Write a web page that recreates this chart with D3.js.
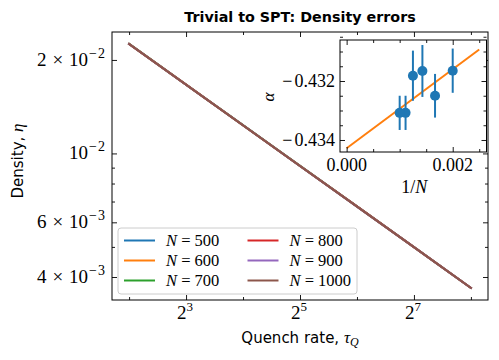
<!DOCTYPE html>
<html>
<head>
<meta charset="utf-8">
<script src="https://cdn.jsdelivr.net/npm/d3@7"></script>
<style>
  body{margin:0;background:#fff;}
  .serif{font-family:"Liberation Serif",serif;}
  .sans{font-family:"DejaVu Sans",sans-serif;}
</style>
</head>
<body>
<script>
// data
const tauQ=[4,8,16,32,64,128,256];
const sizes=[500,600,700,800,900,1000];
const density500 =[0.02253,0.01665,0.01232,0.00912,0.00675,0.00499,0.00369];
const density600 =[0.02252,0.01666,0.01232,0.00912,0.00675,0.00499,0.00369];
const density700 =[0.02252,0.01665,0.01233,0.00912,0.00675,0.00499,0.00369];
const density800 =[0.02251,0.01665,0.01232,0.00911,0.00675,0.00499,0.00369];
const density900 =[0.02251,0.01664,0.01232,0.00911,0.00674,0.00499,0.00369];
const density1000=[0.02250,0.01664,0.01231,0.00911,0.00674,0.00499,0.00369];
const densities=[density500,density600,density700,density800,density900,density1000];
const colors=["#1f77b4","#ff7f0e","#2ca02c","#d62728","#9467bd","#8c564b"];

const xMajor=[8,32,128], xMinor=[4,16,64,256];
const yMajor=[0.02,0.01,0.006,0.004];
const yMajorLabels=[["2","10","−2"],["","10","−2"],["6","10","−3"],["4","10","−3"]];
const yMinor=[0.009,0.008,0.007,0.005];

// inset
const invN=[0.002,0.0016667,0.0014286,0.00125,0.0011111,0.001];
const alpha=[-0.43165,-0.43250,-0.43166,-0.43182,-0.43308,-0.43308];
const alphaErr=[0.00075,0.00074,0.00088,0.00085,0.00058,0.00058];
const fitX=[0,0.0025];
const fitY=[-0.43428,-0.43093];
const inXMajor=[0,0.002], inXLabels=["0.000","0.002"];
const inXMinor=[0.0005,0.001,0.0015,0.0025];
const inYMajor=[-0.432,-0.434], inYLabels=["0.432","0.434"];
const inYMinor=[-0.4305,-0.431,-0.4315,-0.4325,-0.433,-0.4335];

const width=499,height=360;
const m={left:112,top:32,right:488,bottom:300};
const ins={left:340,top:40,right:486.5,bottom:152};

const svg=d3.select("body").append("svg")
  .attr("width",width).attr("height",height);

const x=d3.scaleLog().base(2).domain([Math.pow(2,1.7),Math.pow(2,8.3)]).range([m.left,m.right]);
const y=d3.scaleLog().domain([Math.pow(10,-2.472),Math.pow(10,-1.609)]).range([m.bottom,m.top]);

function ticks(g,axis,vals,len){
  g.call(axis.tickValues(vals).tickSize(-len).tickSizeOuter(0).tickFormat(()=>""));
  g.select(".domain").remove();
  g.selectAll("line").attr("stroke","#000").attr("stroke-width",0.9);
}
function mirrorTicks(xs,ys,box,xMaj,xMin,yMaj,yMin){
  [[xMaj,5],[xMin,3]].forEach(([v,l])=>{
    ticks(svg.append("g").attr("transform",`translate(0,${box.bottom})`),d3.axisBottom(xs),v,l);
    ticks(svg.append("g").attr("transform",`translate(0,${box.top})`),d3.axisTop(xs),v,l);
  });
  [[yMaj,5],[yMin,3]].forEach(([v,l])=>{
    ticks(svg.append("g").attr("transform",`translate(${box.left},0)`),d3.axisLeft(ys),v,l);
    ticks(svg.append("g").attr("transform",`translate(${box.right},0)`),d3.axisRight(ys),v,l);
  });
}

// main lines
const line=d3.line().x((d,i)=>x(tauQ[i])).y(d=>y(d));
densities.forEach((ds,k)=>{
  svg.append("path").datum(ds)
    .attr("fill","none").attr("stroke",colors[k])
    .attr("stroke-width",2).attr("stroke-linecap","square")
    .attr("d",line);
});

mirrorTicks(x,y,m,xMajor,xMinor,yMajor,yMinor);
svg.append("rect").attr("x",m.left).attr("y",m.top)
  .attr("width",m.right-m.left).attr("height",m.bottom-m.top)
  .attr("fill","none").attr("stroke","#000").attr("stroke-width",1);

// x tick labels 2^n
svg.append("g").selectAll("text").data(xMajor).join("text")
  .attr("class","serif").attr("font-size",19)
  .attr("x",d=>x(d)-1).attr("y",319).attr("text-anchor","middle")
  .each(function(d){
    const t=d3.select(this);
    t.append("tspan").text("2");
    t.append("tspan").attr("font-size",13).attr("dy",-8).text(Math.log2(d));
  });

// y tick labels  a × 10^b
svg.append("g").selectAll("text").data(yMajor).join("text")
  .attr("class","serif").attr("font-size",19)
  .attr("x",m.left-6).attr("y",d=>y(d)+6).attr("text-anchor","end")
  .each(function(d,i){
    const t=d3.select(this), lab=yMajorLabels[i];
    if(lab[0]){
      t.append("tspan").text(lab[0]);
      t.append("tspan").attr("dx",6).text("×");
      t.append("tspan").attr("dx",6).text(lab[1]);
    } else t.append("tspan").text(lab[1]);
    t.append("tspan").attr("font-size",14).attr("dy",-8).attr("dx",1).attr("letter-spacing",1).text(lab[2]);
  });

// axis labels and title
svg.append("text").attr("class","sans").attr("font-size",15)
  .attr("transform","translate(23,161) rotate(-90)").attr("text-anchor","middle")
  .call(t=>{
    t.append("tspan").text("Density, ");
    t.append("tspan").attr("class","serif").attr("font-style","italic").attr("font-size",17).text("η");
  });
svg.append("text").attr("class","sans").attr("font-size",15)
  .attr("x",(m.left+m.right)/2).attr("y",343).attr("text-anchor","middle")
  .call(t=>{
    t.append("tspan").text("Quench rate, ");
    t.append("tspan").attr("class","serif").attr("font-style","italic").attr("font-size",17).text("τ");
    t.append("tspan").attr("class","serif").attr("font-style","italic").attr("font-size",12).attr("dy",3).text("Q");
  });
svg.append("text").attr("class","sans").attr("font-size",14.3).attr("font-weight","bold")
  .attr("x",(m.left+m.right)/2).attr("y",22).attr("text-anchor","middle")
  .text("Trivial to SPT: Density errors");

// legend
const leg=svg.append("g");
leg.append("rect").attr("x",118).attr("y",228).attr("width",239).attr("height",66)
  .attr("rx",3).attr("fill","#fff").attr("fill-opacity",0.8)
  .attr("stroke","#ccc").attr("stroke-width",1);
sizes.forEach((n,k)=>{
  const col=Math.floor(k/3), row=k%3;
  const lx=124+col*123.5, ly=240.5+row*20;
  leg.append("line").attr("x1",lx).attr("x2",lx+31).attr("y1",ly).attr("y2",ly)
    .attr("stroke",colors[k]).attr("stroke-width",2);
  leg.append("text").attr("class","serif").attr("font-size",16.5)
    .attr("x",lx+42).attr("y",ly+5.5)
    .call(t=>{
      t.append("tspan").attr("font-style","italic").text("N");
      t.append("tspan").text(" = "+n);
    });
});

// inset
const ix=d3.scaleLinear().domain([-0.000125,0.002637]).range([ins.left,ins.right]);
const iy=d3.scaleLinear().domain([-0.434407,-0.43061]).range([ins.bottom,ins.top]);
svg.append("rect").attr("x",ins.left).attr("y",ins.top)
  .attr("width",ins.right-ins.left).attr("height",ins.bottom-ins.top).attr("fill","#fff");

svg.append("path").datum(fitX)
  .attr("fill","none").attr("stroke","#ff7f0e").attr("stroke-width",2)
  .attr("d",d3.line().x(d=>ix(d)).y((d,i)=>iy(fitY[i])));

svg.append("g").selectAll("line").data(invN).join("line")
  .attr("x1",d=>ix(d)).attr("x2",d=>ix(d))
  .attr("y1",(d,i)=>iy(alpha[i]-alphaErr[i])).attr("y2",(d,i)=>iy(alpha[i]+alphaErr[i]))
  .attr("stroke","#1f77b4").attr("stroke-width",2);
svg.append("g").selectAll("circle").data(invN).join("circle")
  .attr("cx",d=>ix(d)).attr("cy",(d,i)=>iy(alpha[i])).attr("r",5)
  .attr("fill","#1f77b4");

mirrorTicks(ix,iy,ins,inXMajor,inXMinor,inYMajor,inYMinor);
svg.append("rect").attr("x",ins.left).attr("y",ins.top)
  .attr("width",ins.right-ins.left).attr("height",ins.bottom-ins.top)
  .attr("fill","none").attr("stroke","#000").attr("stroke-width",1);

svg.append("g").selectAll("text").data(inXMajor).join("text")
  .attr("class","serif").attr("font-size",18).attr("text-anchor","middle")
  .attr("x",d=>ix(d)).attr("y",171).text((d,i)=>inXLabels[i]);
svg.append("g").selectAll("text").data(inYMajor).join("text")
  .attr("class","serif").attr("font-size",18).attr("text-anchor","end")
  .attr("x",ins.left-5).attr("y",d=>iy(d)+6)
  .each(function(d,i){
    const t=d3.select(this);
    t.append("tspan").text("−");
    t.append("tspan").attr("dx",2).text(inYLabels[i]);
  });
svg.append("text").attr("class","serif").attr("font-size",17).attr("font-style","italic")
  .attr("transform","translate(274,97) rotate(-90)").attr("text-anchor","middle").text("α");
svg.append("text").attr("class","serif").attr("font-size",18).attr("text-anchor","middle")
  .attr("x",(ins.left+ins.right)/2+1).attr("y",193)
  .call(t=>{
    t.append("tspan").text("1/");
    t.append("tspan").attr("font-style","italic").text("N");
  });
</script>
</body>
</html>
